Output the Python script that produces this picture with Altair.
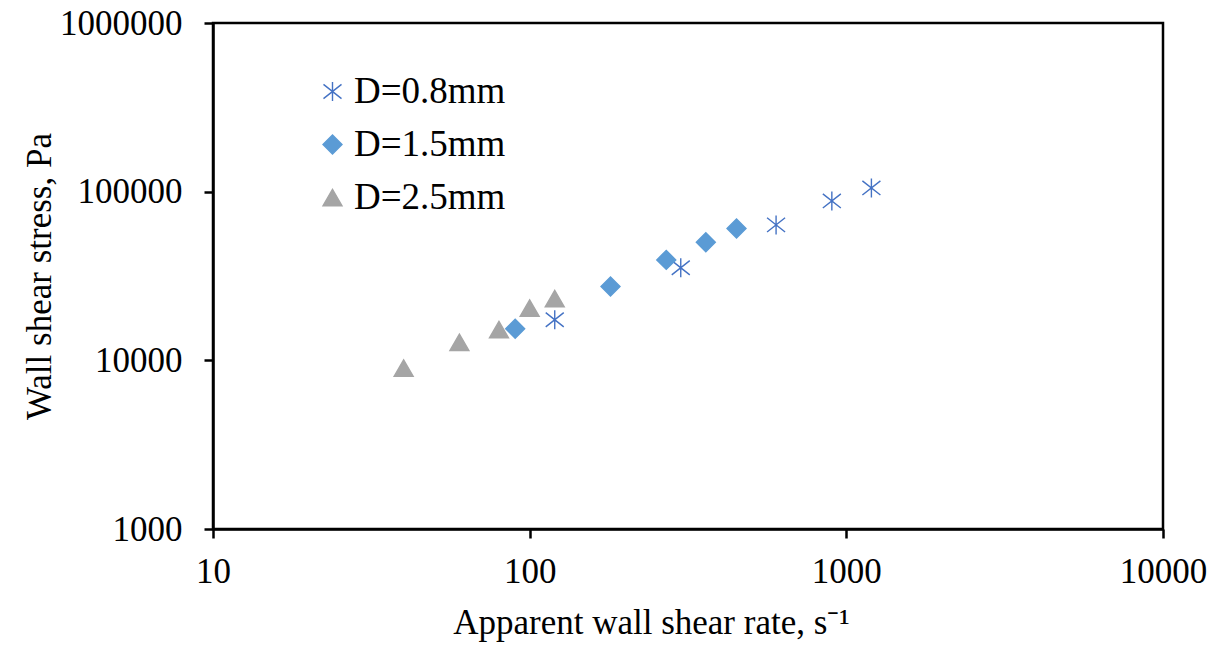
import altair as alt
import pandas as pd

series_names = ["D=0.8mm", "D=1.5mm", "D=2.5mm"]

d08_rate = [120, 300, 600, 900, 1200]
d08_stress = [17400, 35400, 63500, 88100, 105200]

d15_rate = [90, 180, 270, 360, 450]
d15_stress = [15400, 27400, 39400, 50100, 60400]

d25_rate = [40, 60, 80, 100, 120]
d25_stress = [9000, 12800, 15200, 20400, 23200]

x_ticks = [10, 100, 1000, 10000]
y_ticks = [1000, 10000, 100000, 1000000]

colors = ["#4472C4", "#5B9BD5", "#A5A5A5"]
asterisk = "M0,-1L0,1M-0.95,-0.75L0.95,0.75M-0.95,0.75L0.95,-0.75"
shapes = [asterisk, "diamond", "triangle-up"]

rows = []
for name, xs, ys in [(series_names[0], d08_rate, d08_stress),
                     (series_names[1], d15_rate, d15_stress),
                     (series_names[2], d25_rate, d25_stress)]:
    for x, y in zip(xs, ys):
        rows.append({"series": name, "rate": x, "stress": y})
df = pd.DataFrame(rows)

FONT = "Liberation Serif"
leg = alt.Legend(title=None, orient="none", legendX=101, legendY=50)

chart = alt.Chart(df).mark_point(filled=True, size=360, strokeWidth=1.4, opacity=1).encode(
    x=alt.X("rate:Q",
            scale=alt.Scale(type="log", domain=[10, 10000], nice=False),
            axis=alt.Axis(values=x_ticks, format="d", grid=False,
                          title="Apparent wall shear rate, s⁻¹",
                          titleX=438, titleY=104, titleBaseline="alphabetic",
                          titleAlign="center",
                          labelPadding=16, tickSize=9)),
    y=alt.Y("stress:Q",
            scale=alt.Scale(type="log", domain=[1000, 1000000], nice=False),
            axis=alt.Axis(values=y_ticks, format="d", grid=False,
                          title="Wall shear stress, Pa",
                          titleX=-163, titleY=253, titleBaseline="alphabetic",
                          titleAlign="center", titleAngle=270,
                          labelPadding=22, tickSize=9)),
    shape=alt.Shape("series:N", scale=alt.Scale(domain=series_names, range=shapes), legend=leg),
    fill=alt.Fill("series:N", scale=alt.Scale(domain=series_names, range=colors), legend=leg),
    stroke=alt.Stroke("series:N", scale=alt.Scale(domain=series_names, range=colors), legend=leg),
).properties(
    width=950, height=506,
    autosize=alt.AutoSizeParams(type="none"),
    padding={"left": 213, "top": 23, "right": 50, "bottom": 119},
).configure_view(
    stroke="black", strokeWidth=2.5
).configure_axis(
    labelFont=FONT, titleFont=FONT, labelFontSize=35, titleFontSize=35,
    labelColor="black", titleColor="black", titleFontWeight="normal",
    domainColor="black", domainWidth=2.5, tickColor="black", tickWidth=2.5,
    labelFlush=False, labelOverlap=False
).configure_legend(
    labelFont=FONT, labelFontSize=37, labelColor="black",
    symbolSize=360, symbolStrokeWidth=1.4, labelOffset=3, rowPadding=15, padding=0,
    symbolOpacity=1
)

chart.save("out.html", embed_options={"renderer": "svg", "actions": False})
